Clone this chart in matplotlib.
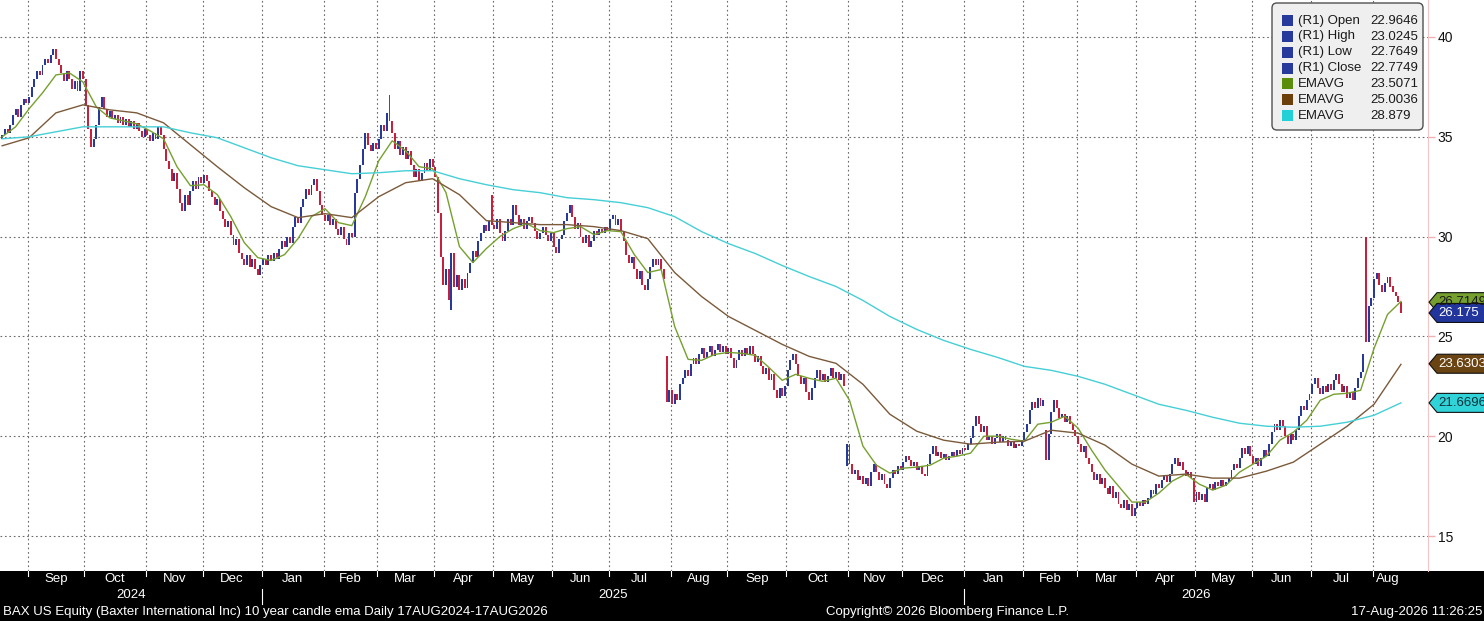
import numpy as np
import pandas as pd
import matplotlib
matplotlib.use("Agg")
import matplotlib.pyplot as plt
from matplotlib.patches import Rectangle, Polygon, FancyBboxPatch
from matplotlib.transforms import IdentityTransform, blended_transform_factory

# Date range of the daily candles
start_date = "2024-08-19"
end_date = "2026-08-17"

# Daily closes, month by month
closes = [
    # Aug 2024
    35.1, 35.4, 35.2, 35.6, 36.1, 36.4, 36.0, 36.6, 36.9, 36.7,
    # Sep 2024
    37.0, 37.5, 37.9, 38.3, 38.1, 38.6, 38.9, 38.7, 39.1, 39.4, 38.9, 38.6, 38.2, 37.8, 38.3, 37.9, 37.4, 37.8, 37.3, 38.3, 37.9,
    # Oct 2024
    36.6, 35.4, 34.5, 34.9, 35.6, 36.5, 37.0, 36.4, 36.0, 36.3, 35.9, 36.1, 35.7, 36.0, 35.6, 35.9, 35.5, 35.8, 35.4, 35.7, 35.3, 35.0, 35.4,
    # Nov 2024
    35.1, 34.8, 35.2, 34.9, 35.5, 35.1, 34.4, 33.8, 33.4, 32.8, 33.2, 32.4, 31.7, 31.3, 32.1, 31.6, 32.3, 32.8, 32.4, 33.0, 32.7,
    # Dec 2024
    33.1, 32.8, 32.3, 32.0, 31.6, 31.9, 31.3, 30.9, 30.5, 30.8, 30.1, 29.6, 29.9, 29.2, 28.9, 28.6, 29.1, 28.5, 28.9, 28.4, 28.1, 28.6,
    # Jan 2025
    28.9, 28.6, 29.1, 28.8, 29.2, 28.9, 29.4, 29.8, 29.5, 30.0, 29.7, 30.5, 31.0, 30.7, 31.5, 31.9, 32.4, 32.1, 32.6, 32.9, 32.3, 31.6, 31.1,
    # Feb 2025
    30.8, 31.1, 30.6, 30.9, 30.4, 30.1, 30.5, 29.9, 29.6, 30.2, 30.0, 32.2, 32.9, 33.6, 34.4, 35.2, 34.6, 34.3, 34.7, 34.4,
    # Mar 2025
    34.9, 35.6, 35.3, 36.2, 35.8, 35.2, 34.4, 34.8, 34.1, 34.5, 33.9, 34.3, 33.6, 33.0, 33.4, 32.8, 33.2, 33.7, 33.3, 33.9, 33.5,
    # Apr 2025
    33.0, 31.2, 29.0, 27.6, 28.4, 26.8, 29.2, 27.5, 28.1, 27.3, 27.9, 27.4, 28.2, 28.7, 29.3, 29.0, 29.8, 30.2, 30.6, 30.3, 30.8, 30.6,
    # May 2025
    30.4, 30.9, 30.2, 29.8, 30.3, 30.9, 30.6, 31.6, 31.1, 30.6, 30.9, 30.4, 30.8, 31.0, 30.7, 30.3, 29.9, 30.2, 30.5, 30.1, 29.8, 30.2,
    # Jun 2025
    29.5, 29.2, 29.9, 30.1, 30.8, 31.2, 31.6, 31.0, 30.4, 30.7, 30.0, 29.7, 30.1, 29.5, 29.8, 30.3, 30.1, 30.4, 30.2, 30.5, 30.3,
    # Jul 2025
    30.9, 31.1, 30.6, 30.9, 30.3, 29.8, 29.1, 28.7, 29.0, 28.4, 27.9, 28.3, 27.6, 27.3, 27.9, 28.5, 28.9, 28.6, 28.9, 28.4, 27.9, 21.7, 22.3,
    # Aug 2025
    21.6, 22.1, 21.8, 22.6, 22.9, 23.3, 23.0, 23.6, 23.9, 23.6, 24.1, 24.4, 23.9, 24.2, 24.5, 24.0, 24.3, 24.6, 24.2, 24.5, 24.1,
    # Sep 2025
    24.4, 23.9, 23.4, 23.8, 24.3, 24.0, 24.4, 24.1, 24.5, 24.1, 23.7, 24.0, 23.5, 23.1, 23.4, 22.8, 23.1, 22.3, 21.9, 22.4, 22.0, 22.5,
    # Oct 2025
    23.3, 23.8, 24.1, 23.6, 23.0, 22.6, 22.9, 22.2, 21.8, 22.4, 22.9, 23.3, 22.8, 23.1, 22.7, 23.0, 23.4, 22.9, 23.2, 22.8, 23.1, 22.5, 19.6,
    # Nov 2025
    18.6, 18.1, 18.3, 17.8, 18.0, 17.6, 17.9, 17.5, 18.2, 18.6, 18.2, 17.8, 18.1, 17.6, 17.4, 17.9, 18.3, 18.1, 18.5, 18.3,
    # Dec 2025
    18.7, 19.0, 18.8, 18.5, 18.7, 18.3, 18.5, 18.1, 18.0, 18.6, 19.1, 19.5, 19.0, 19.2, 18.9, 19.1, 18.8, 19.0, 19.2, 19.0, 19.3, 19.1, 19.4,
    # Jan 2026
    19.3, 19.6, 19.9, 20.5, 21.0, 20.6, 20.2, 20.5, 19.8, 20.0, 19.6, 19.9, 20.1, 19.7, 20.0, 19.8, 19.5, 19.7, 19.4, 19.6, 19.5, 19.8,
    # Feb 2026
    20.2, 20.6, 21.3, 21.7, 21.4, 21.9, 21.5, 21.8, 18.8, 20.1, 21.2, 21.8, 21.4, 20.9, 21.1, 20.7, 21.0, 20.6, 20.3, 20.0,
    # Mar 2026
    19.6, 19.2, 19.5, 18.9, 18.6, 18.2, 17.8, 18.1, 17.6, 17.9, 17.4, 17.1, 17.5, 16.9, 17.2, 16.6, 16.4, 16.8, 16.3, 16.6, 16.0, 16.4,
    # Apr 2026
    16.7, 16.5, 16.8, 16.6, 16.9, 17.3, 17.1, 17.6, 17.4, 17.8, 18.0, 17.7, 18.1, 18.6, 18.9, 18.5, 18.7, 18.3, 18.0, 18.2, 17.9, 16.7,
    # May 2026
    17.2, 16.8, 17.1, 16.7, 17.4, 17.6, 17.3, 17.7, 17.5, 17.8, 17.5, 17.7, 17.9, 18.3, 18.6, 18.4, 18.9, 19.4, 19.1, 19.5, 19.0,
    # Jun 2026
    18.6, 18.9, 18.5, 18.9, 19.3, 19.0, 19.6, 20.2, 20.6, 20.3, 20.8, 20.5, 20.0, 19.6, 20.1, 19.8, 20.3, 21.0, 21.5, 21.3, 21.8, 22.1,
    # Jul 2026
    22.6, 22.9, 22.4, 22.1, 22.5, 22.2, 22.6, 22.3, 22.8, 23.1, 22.6, 22.2, 22.5, 21.9, 22.2, 21.8, 22.4, 22.9, 23.2, 24.1, 24.7, 26.5, 26.9,
    # Aug 2026
    27.9, 28.2, 27.6, 27.2, 27.7, 28.0, 27.5, 27.2, 27.0, 26.7, 26.175,
]
first_open = 34.9

# Days that opened away from the previous close
gap_opens = {
    "2025-03-07": 37.1,
    "2025-04-09": 26.3,
    "2025-04-30": 32.1,
    "2025-07-30": 24.0,
    "2025-10-31": 18.5,
    "2026-02-12": 20.3,
    "2026-07-29": 30.0,
}

# EMA lines sampled every 5 / 10 trading days
ema_fast_step = 5
ema_fast = [
    35.0, 35.5, 36.4, 37.2, 38.1, 38.2, 37.75, 36.5, 35.95, 35.8,
    35.65, 35.3, 34.9, 33.5, 32.55, 32.6, 32.1, 31.0, 29.7, 28.95,
    28.8, 29.1, 29.9, 31.0, 31.4, 30.7, 30.55, 32.0, 33.8, 34.8,
    34.3, 33.5, 33.4, 32.2, 29.5, 28.7, 29.4, 30.0, 30.4, 30.65,
    30.3, 30.2, 30.4, 30.5, 30.1, 30.3, 30.25, 29.1, 28.2, 28.35,
    25.5, 23.85, 23.8, 24.1, 24.2, 24.15, 24.05, 23.45, 22.8, 23.1,
    22.9, 22.75, 22.9, 21.8, 19.5, 18.55, 18.15, 18.4, 18.45, 18.55,
    18.9, 19.0, 19.15, 20.0, 20.0, 19.85, 19.75, 20.6, 20.7, 21.0,
    20.4, 19.3, 18.3, 17.5, 16.7, 16.7, 17.15, 17.75, 18.1, 17.6,
    17.3, 17.55, 18.2, 18.6, 19.0, 19.8, 20.2, 20.8, 21.8, 22.1,
    22.15, 22.3, 24.4, 26.1, 26.75,
]
ema_slow_step = 10
ema_mid = [
    34.55, 34.95, 36.2, 36.6, 36.35, 36.2, 35.7, 34.6, 33.5, 32.45,
    31.5, 30.95, 31.15, 30.95, 32.0, 32.7, 32.9, 32.1, 30.8, 30.7,
    30.6, 30.6, 30.5, 30.3, 29.9, 28.2, 27.0, 26.0, 25.3, 24.6,
    24.0, 23.65, 22.6, 21.1, 20.25, 19.8, 19.6, 19.7, 19.75, 20.3,
    20.15, 19.55, 18.6, 18.0, 18.1, 17.9, 17.9, 18.25, 18.7, 19.6,
    20.5, 21.6, 23.6,
]
ema_long = [
    34.9, 35.0, 35.25, 35.5, 35.5, 35.5, 35.5, 35.2, 34.95, 34.45,
    33.95, 33.55, 33.35, 33.15, 33.2, 33.3, 33.3, 32.9, 32.6, 32.35,
    32.2, 31.95, 31.85, 31.7, 31.45, 31.0, 30.25, 29.65, 29.15, 28.55,
    28.0, 27.5, 26.8, 26.0, 25.35, 24.8, 24.35, 23.95, 23.5, 23.3,
    23.0, 22.6, 22.1, 21.6, 21.3, 20.95, 20.65, 20.5, 20.45, 20.5,
    20.7, 21.05, 21.67,
]

legend_labels = ["(R1) Open", "(R1) High", "(R1) Low", "(R1) Close", "EMAVG", "EMAVG", "EMAVG"]
legend_values = ["22.9646", "23.0245", "22.7649", "22.7749", "23.5071", "25.0036", "28.879"]
tag_values = [26.7149, 26.175, 23.6303, 21.6696]
tag_texts = ["26.7149", "26.175", "23.6303", "21.6696"]
y_ticks = [15, 20, 25, 30, 35, 40]

footer_left = "BAX US Equity (Baxter International Inc) 10 year candle ema Daily 17AUG2024-17AUG2026"
footer_mid = "Copyright\u00a9 2026 Bloomberg Finance L.P."
footer_right = "17-Aug-2026 11:26:25"

# colours
UP = "#27399b"
DOWN = "#c81f3d"
GREEN = "#76a02e"
BROWN = "#7b5a3a"
CYAN = "#45cfd6"

W, H = 1484, 621
plt.rcParams["font.family"] = ["Liberation Sans", "DejaVu Sans"]
NARROW = ["Liberation Sans Narrow", "Liberation Sans", "DejaVu Sans"]

dates = pd.bdate_range(start_date, end_date)
n = len(dates)
idx = np.arange(n)
closes = np.array(closes)
opens = np.concatenate([[first_open], closes[:-1]])
for d, o in gap_opens.items():
    opens[dates.get_loc(pd.Timestamp(d))] = o

fig = plt.figure(figsize=(W / 100, H / 100), dpi=100)
fig.patch.set_facecolor("white")
plot_bottom = 571
ax = fig.add_axes([0, (H - plot_bottom) / H, 1428 / W, plot_bottom / H])
ax.set_xlim(-0.8, 1428 / 2.69 - 0.8)
ax.set_ylim(40 - (plot_bottom - 37) / 19.96, 40 + 37 / 19.96)

# month boundaries
month_key = dates.year * 12 + dates.month
starts = [i for i in range(1, n) if month_key[i] != month_key[i - 1]]
bounds = [s - 0.5 for s in starts]

for b in bounds:
    ax.axvline(b, color="#6a6a6a", lw=0.8, ls=(0, (1.5, 2.5)), zorder=1)
for yv in y_ticks:
    ax.axhline(yv, color="#6a6a6a", lw=0.8, ls=(0, (1.5, 2.5)), zorder=1)

# candles
body_lo = np.minimum(opens, closes)
body_h = np.maximum(np.abs(closes - opens), 0.06)
cols = np.where(closes >= opens, UP, DOWN)
ax.bar(idx, body_h, bottom=body_lo, width=0.72, color=cols, linewidth=0, zorder=2)

# EMA lines
ax.plot(idx[::ema_fast_step], ema_fast, color=GREEN, lw=1.0, zorder=3)
ax.plot(idx[::ema_slow_step], ema_mid, color=BROWN, lw=1.0, zorder=3)
ax.plot(idx[::ema_slow_step], ema_long, color=CYAN, lw=1.0, zorder=3)

# axes styling
for s in ["left", "top", "bottom"]:
    ax.spines[s].set_visible(False)
ax.spines["right"].set_color("#f2c6c6")
ax.spines["right"].set_linewidth(0.8)
ax.set_xticks([])
ax.yaxis.tick_right()
ax.set_yticks(y_ticks)
ax.tick_params(axis="y", colors="#f0b0b0", labelcolor="#111111", length=5, width=1,
               pad=2, labelsize=10)

# bottom black band
fig.add_artist(Rectangle((0, 0), 1, (H - plot_bottom) / H, transform=fig.transFigure,
                         facecolor="black", edgecolor="none", zorder=0))
band = blended_transform_factory(ax.transData, fig.transFigure)

def fy(ypix):
    return 1 - ypix / H

for s, b in zip(starts, bounds):
    ax.plot([b, b], [fy(571), fy(576)], color="white", lw=0.8, transform=band, clip_on=False)
    if dates[s].month == 1:
        ax.plot([b, b], [fy(589), fy(604)], color="white", lw=0.8, transform=band, clip_on=False)

# month labels (skip the partial first month)
groups = pd.Series(idx).groupby(month_key)
for k, (key, g) in enumerate(groups):
    if k == 0:
        continue
    mid = (g.iloc[0] + g.iloc[-1]) / 2
    ax.text(mid, fy(579), dates[g.iloc[0]].strftime("%b"), transform=band, color="white",
            ha="center", va="center", fontsize=9.5, family=NARROW, clip_on=False)

# year labels
xl0, xl1 = ax.get_xlim()
years = sorted(set(dates.year))
for yr in years:
    lo = max(xl0, [b for s, b in zip(starts, bounds) if dates[s].year == yr][0] if yr != years[0] else xl0)
    nxt = [b for s, b in zip(starts, bounds) if dates[s].year == yr + 1 and dates[s].month == 1]
    hi = nxt[0] if nxt else xl1
    ax.text((lo + hi) / 2, fy(595), str(yr), transform=band, color="white",
            ha="center", va="center", fontsize=9.5, family=NARROW, clip_on=False)

fig.text(3 / W, fy(612), footer_left, color="white", ha="left", va="center",
         fontsize=9.5, family=NARROW)
fig.text(826 / W, fy(612), footer_mid, color="white", ha="left", va="center",
         fontsize=9.5, family=NARROW)
fig.text(1482 / W, fy(612), footer_right, color="white", ha="right", va="center",
         fontsize=9.5, family=NARROW)

# right side value tags
tag_faces = [GREEN, "#22359c", "#6b4414", "#2fd3d8"]
tag_fg = ["#1a1a1a", "white", "white", "#10303a"]
for v, t, fc, tc in zip(tag_values, tag_texts, tag_faces, tag_fg):
    _, yd = ax.transData.transform((0, v))
    pts = [(1429, yd), (1437, yd + 9.5), (1490, yd + 9.5), (1490, yd - 9.5), (1437, yd - 9.5)]
    fig.add_artist(Polygon(pts, closed=True, transform=IdentityTransform(), facecolor=fc,
                           edgecolor="#111111", lw=0.8, clip_on=False))
    fig.text(1438 / W, yd / H, t, color=tc, ha="left", va="center", fontsize=9.5)

# legend box
fig.add_artist(FancyBboxPatch((1272, H - 130), 151, 127, boxstyle="round,pad=0,rounding_size=5",
                              transform=IdentityTransform(), facecolor="#efefef",
                              edgecolor="#505050", lw=1))
sq_cols = [UP, UP, UP, UP, "#5b8c0a", "#6b3f0a", "#22d0d8"]
for i, (lab, val, c) in enumerate(zip(legend_labels, legend_values, sq_cols)):
    yc = 20.7 + i * 15.8
    fig.add_artist(Rectangle((1282, H - yc - 5.5), 11, 11, transform=IdentityTransform(),
                             facecolor=c, edgecolor="none"))
    fig.text(1298 / W, fy(yc), lab, color="#1a1a1a", ha="left", va="center", fontsize=9.5)
    fig.text(1370 / W, fy(yc), val, color="#1a1a1a", ha="left", va="center", fontsize=9.5)

fig.savefig("out.png", dpi=100)
